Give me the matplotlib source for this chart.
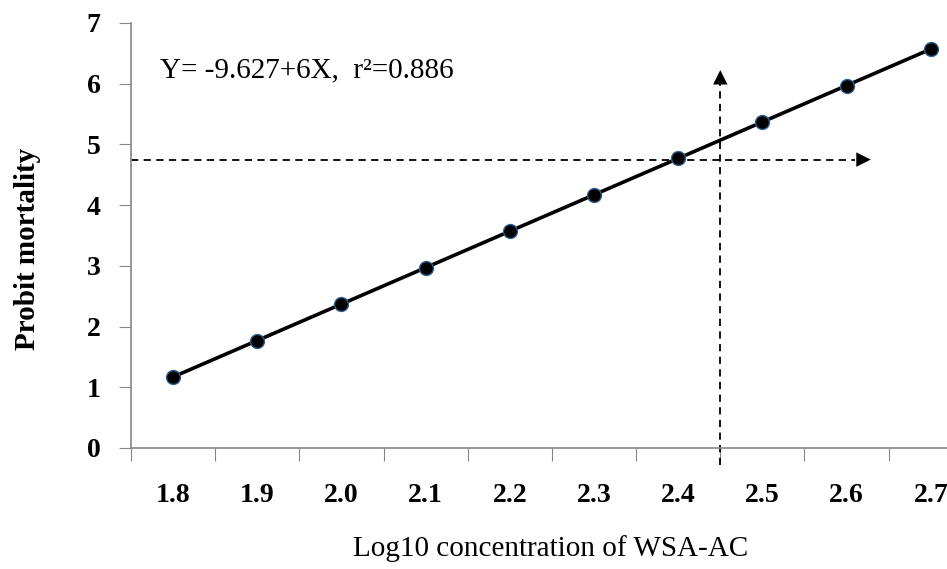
import numpy as np
import matplotlib.pyplot as plt
from matplotlib.patches import Rectangle

plt.rcParams['font.family'] = ['Liberation Serif', 'DejaVu Serif']

log_conc = [1.8, 1.9, 2.0, 2.1, 2.2, 2.3, 2.4, 2.5, 2.6, 2.7]
probit = [1.17, 1.77, 2.37, 2.97, 3.57, 4.17, 4.77, 5.37, 5.97, 6.57]
tick_labels = ['1.8', '1.9', '2.0', '2.1', '2.2', '2.3', '2.4', '2.5', '2.6', '2.7']

lc50_x = 2.45
lc50_y = 4.75

fig = plt.figure(figsize=(9.47, 5.69), dpi=100)
ax = fig.add_axes([0.1383, 0.2127, 0.889, 0.7469])

ax.plot(log_conc, probit, color='black', lw=2.6, zorder=3)
ax.plot(log_conc, probit, 'o', ms=10, mfc='black', mec='#2f5f8f', mew=1.0, zorder=4)

# dashed guide lines with arrow heads
ax.plot([1.75, 2.61], [lc50_y, lc50_y], '--', color='black', lw=1.3, dashes=(4, 3), clip_on=False)
ax.annotate('', xy=(2.632, lc50_y), xytext=(2.60, lc50_y),
            arrowprops=dict(arrowstyle='-|>', color='black', lw=0, mutation_scale=26))
ax.plot([lc50_x, lc50_x], [-0.28, 6.0], '--', color='black', lw=1.3, dashes=(4, 3), clip_on=False)
ax.annotate('', xy=(lc50_x, 6.27), xytext=(lc50_x, 5.92),
            arrowprops=dict(arrowstyle='-|>', color='black', lw=0, mutation_scale=26))

ax.text(1.785, 6.1, 'Y= -9.627+6X,  r²=0.886', fontsize=21)

ax.set_xlim(1.75, 2.75)
ax.set_ylim(0, 7)
ax.set_xticks(np.arange(1.75, 2.76, 0.1))
ax.set_xticklabels([])
ax.set_xticks(log_conc, minor=True)
ax.set_xticklabels(tick_labels, minor=True, fontsize=20, fontweight='bold')
ax.tick_params(axis='x', which='minor', length=0, pad=25)
ax.tick_params(axis='x', which='major', length=9, color='#868686', direction='out')
ax.set_yticks(range(0, 8))
ax.tick_params(axis='y', length=9, color='#868686', labelsize=20, pad=13)
for lab in ax.get_yticklabels():
    lab.set_fontweight('bold')

for side in ['top', 'right']:
    ax.spines[side].set_visible(False)
for side in ['left', 'bottom']:
    ax.spines[side].set_color('#868686')
    ax.spines[side].set_linewidth(1.2)

# the tick label row is trimmed along its lower edge
fig.patches.append(Rectangle((0.14, 1 - 514 / 569), 0.86, 12 / 569, transform=fig.transFigure,
                             facecolor='white', edgecolor='none', zorder=10))

fig.text(0.029, 0.5624, 'Probit mortality', rotation=90, fontsize=21, fontweight='bold',
         ha='center', va='center')
fig.text(0.581, 0.036, 'Log10 concentration of WSA-AC', fontsize=21, ha='center', va='center')

fig.savefig('out.png', dpi=100)
